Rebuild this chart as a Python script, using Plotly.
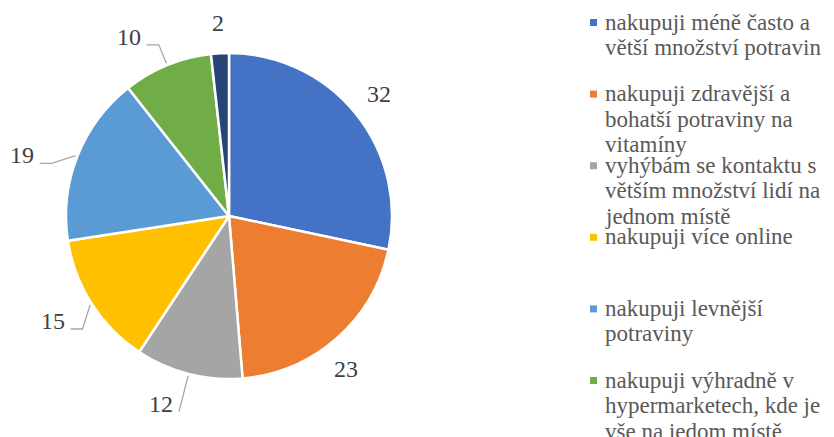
import math
import plotly.graph_objects as go

labels = [
    "nakupuji méně často a<br>větší množství potravin",
    "nakupuji zdravější a<br>bohatší potraviny na<br>vitamíny",
    "vyhýbám se kontaktu s<br>větším množství lidí na<br>jednom místě",
    "nakupuji více online",
    "nakupuji levnější<br>potraviny",
    "nakupuji výhradně v<br>hypermarketech, kde je<br>vše na jedom místě",
    "jiné",
]
values = [32, 23, 12, 15, 19, 10, 2]
colors = ["#4472C4", "#ED7D31", "#A5A5A5", "#FFC000", "#5B9BD5", "#70AD47", "#264478"]

# label placement styling (angle nudge in degrees, leader length, horizontal tail)
label_nudge = [0, 4, 0, -5, -5, 0, 0]
leader_len = [0, 0, 39, 22, 22, 22, 0]
leader_tail = [0, 0, 0, 12, 12, 12, 0]

W, H = 834, 437
OFF = 8                      # page body margin shifts the figure by 8px
CX, CY, R = 229, 216, 163    # pie centre / radius in page pixels
FONT = "Liberation Serif"


def px(x):
    return (x - OFF) / W


def py(y):
    return 1 - (y - OFF) / H


fig = go.Figure()
fig.add_trace(go.Pie(
    labels=[lab.replace("<br>", " ") for lab in labels],
    values=values,
    sort=False,
    direction="clockwise",
    rotation=0,
    marker=dict(colors=colors, line=dict(color="white", width=2.5)),
    textinfo="none",
    hoverinfo="label+value",
    showlegend=False,
    domain=dict(x=[px(CX - R), px(CX + R)], y=[py(CY + R), py(CY - R)]),
))

annotations = []
shapes = []

# value labels around the pie
total = sum(values)
cum = 0
for v, nudge, ln, tail in zip(values, label_nudge, leader_len, leader_tail):
    mid = (cum + v / 2) / total * 2 * math.pi
    cum += v
    s, c = math.sin(mid), math.cos(mid)
    a2 = mid + math.radians(nudge)
    s2, c2 = math.sin(a2), math.cos(a2)
    if ln:
        x1, y1 = CX + (R + 2) * s, CY - (R + 2) * c
        x2, y2 = CX + (R + ln) * s2, CY - (R + ln) * c2
        side = 1 if s > 0 else -1
        x3 = x2 + side * tail
        shapes.append(dict(
            type="path", xref="paper", yref="paper",
            path=f"M {px(x1)} {py(y1)} L {px(x2)} {py(y2)} L {px(x3)} {py(y2)}",
            line=dict(color="#A6A6A6", width=1.3),
        ))
        annotations.append(dict(
            x=px(x3 + side * 4), y=py(y2 - 8), xref="paper", yref="paper",
            text=str(v), showarrow=False,
            xanchor="left" if side > 0 else "right", yanchor="middle",
        ))
    else:
        rr = R + 30
        annotations.append(dict(
            x=px(CX + rr * s2), y=py(CY - rr * c2), xref="paper", yref="paper",
            text=str(v), showarrow=False, xanchor="center", yanchor="middle",
        ))

# legend drawn at the right; only the first six entries fit in the frame
LEG_X, LEG_Y0, LEG_STEP, LINE_STEP = 590, 22, 71.6, 25.5
for i, (lab, col) in enumerate(zip(labels[:6], colors[:6])):
    y0 = LEG_Y0 + i * LEG_STEP
    shapes.append(dict(
        type="rect", xref="paper", yref="paper",
        x0=px(LEG_X), x1=px(LEG_X + 7), y0=py(y0 - 3), y1=py(y0 + 4),
        fillcolor=col, line=dict(width=0),
    ))
    for k, line in enumerate(lab.split("<br>")):
        annotations.append(dict(
            x=px(LEG_X + 13), y=py(y0 + k * LINE_STEP), xref="paper", yref="paper",
            text=line, showarrow=False, xanchor="left", yanchor="middle",
            font=dict(family=FONT, size=23, color="#595959"),
        ))

fig.update_layout(
    width=W, height=H,
    margin=dict(l=0, r=0, t=0, b=0),
    paper_bgcolor="white",
    font=dict(family=FONT, size=24, color="#404040"),
    annotations=annotations,
    shapes=shapes,
    showlegend=False,
)

fig.write_html("out.html")
